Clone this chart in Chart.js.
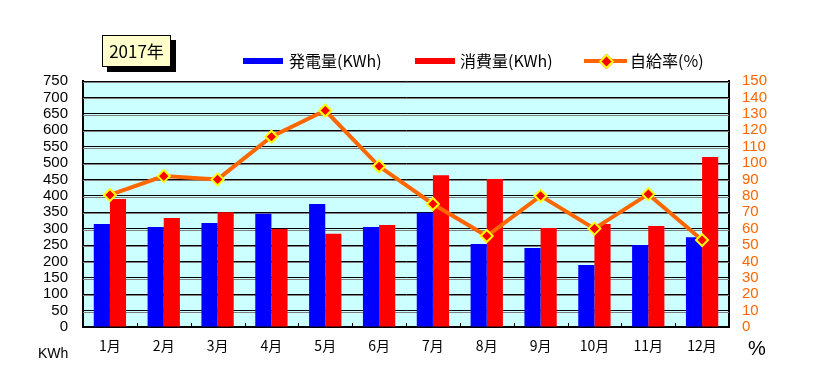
<!DOCTYPE html>
<html>
<head>
<meta charset="utf-8">
<script src="https://cdn.jsdelivr.net/npm/chart.js@4/dist/chart.umd.min.js"></script>
<style>
  body { margin: 0; background: #fff; }
  #wrap { position: relative; width: 821px; height: 372px; }
  #title { position: absolute; left: 102px; top: 35px; width: 67px; height: 30px; background: #ffffcc;
    border: 1px solid #000; box-shadow: 5px 5px 0 #000; font: 17px "Noto Sans CJK JP"; line-height: 30px; text-align: center; }
  .leg { position: absolute; top: 49px; font: 16px "Noto Sans CJK JP"; line-height: 22px; white-space: nowrap; }
  .box { position: absolute; top: 9px; height: 6px; width: 40px; }
  .unit { position: absolute; font: 14px "Liberation Sans", Arial; }
</style>
</head>
<body>
<div id="wrap">
  <canvas id="myChart" width="821" height="372"></canvas>
  <div id="title">2017年</div>
  <div class="leg" style="left:243px"><div class="box" style="background:#0000ff"></div><span style="margin-left:46px">発電量(KWh)</span></div>
  <div class="leg" style="left:415px"><div class="box" style="background:#ff0000"></div><span style="margin-left:45px">消費量(KWh)</span></div>
  <div class="leg" style="left:584px">
    <div class="box" style="background:#ff6600;height:4px;top:10px;width:43px"></div>
    <div style="position:absolute;left:17px;top:7px;width:7px;height:7px;background:#ff0000;border:2px solid #ffff00;transform:rotate(45deg)"></div>
    <span style="margin-left:46px">自給率(%)</span></div>
  <div class="unit" style="left:38px;top:345px">KWh</div>
  <div class="unit" style="left:748px;top:337px;font-size:20px">%</div>
</div>
<script>
// monthly data
let months = ["1月", "2月", "3月", "4月", "5月", "6月", "7月", "8月", "9月", "10月", "11月", "12月"]

let generated = [314, 305, 317, 345, 375, 305, 348, 253, 241, 189, 250, 274]

let consumed = [390, 332, 350, 299, 284, 311, 463, 451, 302, 314, 308, 518]

let selfRate = [80.5, 92, 90, 116, 132, 98, 75, 55.5, 80, 60, 81, 53]

// grey shadow under each grid line + small tick marks between months
const decor = {
    id: 'decor',
    beforeDatasetsDraw(chart) {
        const ctx = chart.ctx
        const y = chart.scales.y
        const x = chart.scales.x
        const area = chart.chartArea
        ctx.save()
        ctx.strokeStyle = '#808080'
        ctx.lineWidth = 1
        y.ticks.forEach(t => {
            const py = Math.round(y.getPixelForValue(t.value)) + 1.5
            if (t.value === 0) return
            ctx.beginPath()
            ctx.moveTo(area.left, py)
            ctx.lineTo(area.right, py)
            ctx.stroke()
        })
        ctx.strokeStyle = '#000'
        for (let i = 1; i < months.length; i++) {
            const px = Math.round((x.getPixelForValue(i - 1) + x.getPixelForValue(i)) / 2) + 0.5
            ctx.beginPath()
            ctx.moveTo(px, area.bottom)
            ctx.lineTo(px, area.bottom - 4)
            ctx.stroke()
        }
        ctx.restore()
    }
}

function drawChart() {
    var ctx = document.getElementById('myChart').getContext('2d')
    var chart = new Chart(ctx, {
        data: {
            labels: months,
            datasets: [{
                type: 'line',
                label: '自給率(%)',
                data: selfRate,
                yAxisID: 'y2',
                borderColor: '#ff6600',
                borderWidth: 4,
                pointStyle: 'rectRot',
                pointRadius: 6,
                pointBackgroundColor: '#ff0000',
                pointBorderColor: '#ffff00',
                pointBorderWidth: 2,
                order: 0
            }, {
                type: 'bar',
                label: '発電量(KWh)',
                data: generated,
                backgroundColor: '#0000ff',
                yAxisID: 'y',
                order: 1
            }, {
                type: 'bar',
                label: '消費量(KWh)',
                data: consumed,
                backgroundColor: '#ff0000',
                yAxisID: 'y',
                order: 1
            }]
        },
        plugins: [decor, {
            id: 'bg',
            beforeDraw(chart) {
                const a = chart.chartArea
                chart.ctx.save()
                chart.ctx.fillStyle = '#ccffff'
                chart.ctx.fillRect(a.left, a.top, a.right - a.left, a.bottom - a.top)
                chart.ctx.restore()
            }
        }],
        options: {
            responsive: false,
            animation: false,
            layout: { padding: { top: 81, left: 0, right: 0, bottom: 0 } },
            plugins: { legend: { display: false }, tooltip: { enabled: false } },
            datasets: { bar: { categoryPercentage: 0.6, barPercentage: 1.0 } },
            scales: {
                x: {
                    grid: { display: false, drawTicks: false },
                    border: { color: '#000', width: 2 },
                    ticks: { color: '#000', padding: 10, autoSkip: false, maxRotation: 0, font: { family: 'Noto Sans CJK JP', size: 14 } },
                    afterFit(s) { s.height = 45 }
                },
                y: {
                    min: 0, max: 750,
                    ticks: { stepSize: 50, autoSkip: false, color: '#000', padding: 15, font: { family: 'Liberation Sans', size: 15 } },
                    grid: { color: '#000', lineWidth: 1, drawTicks: false },
                    border: { color: '#000', width: 2 },
                    afterFit(s) { s.width = 83 }
                },
                y2: {
                    position: 'right',
                    min: 0, max: 150,
                    ticks: { stepSize: 10, autoSkip: false, color: '#ff6600', padding: 13, font: { family: 'Liberation Sans', size: 15 } },
                    grid: { display: false, drawTicks: false },
                    border: { color: '#000', width: 2 },
                    afterFit(s) { s.width = 92 }
                }
            }
        }
    })
}

drawChart()
</script>
</body>
</html>
